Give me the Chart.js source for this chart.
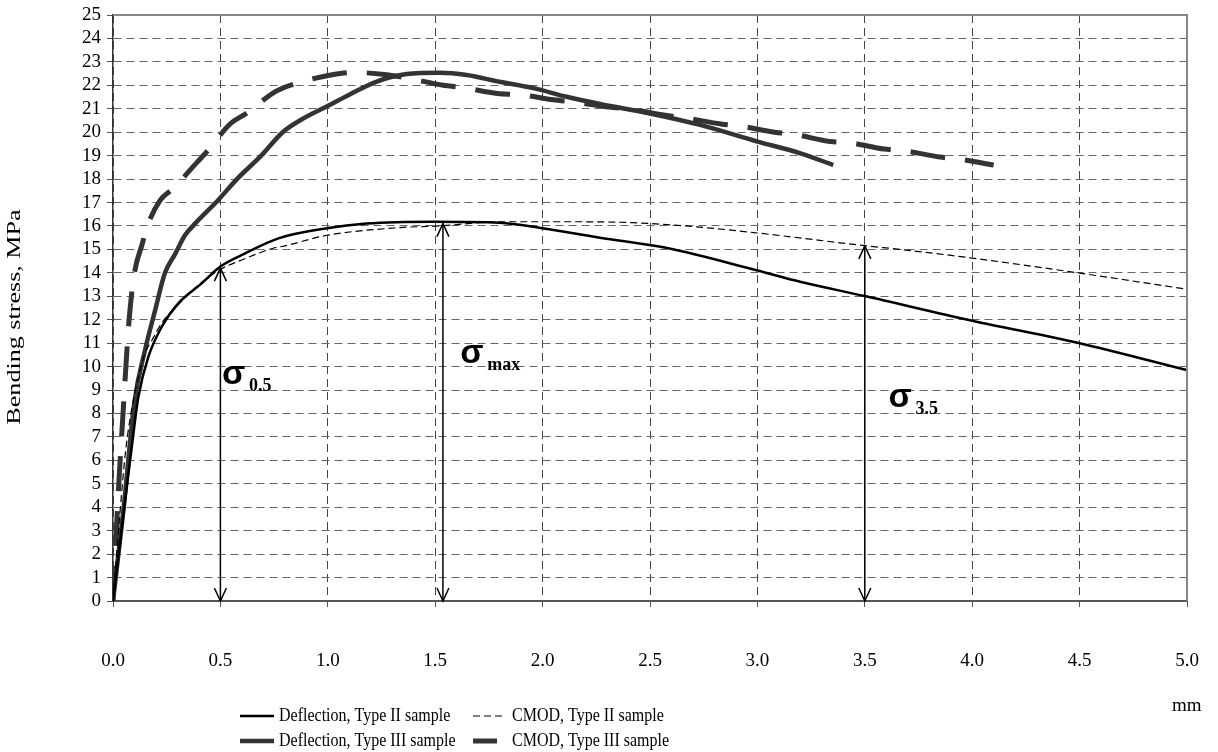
<!DOCTYPE html>
<html>
<head>
<meta charset="utf-8">
<script src="https://cdn.jsdelivr.net/npm/chart.js@4.4.1/dist/chart.umd.min.js"></script>
<style>
  html, body { margin: 0; padding: 0; background: #fff; }
  #wrap { width: 1218px; height: 752px; position: relative; }
</style>
</head>
<body>
<div id="wrap"><canvas id="c" width="1218" height="752"></canvas></div>
<script>
// ---- data ----
const xTicks = [0, 0.5, 1, 1.5, 2, 2.5, 3, 3.5, 4, 4.5, 5];

const defl2X = [0, 0.05, 0.1, 0.118, 0.164, 0.227, 0.304, 0.413, 0.498, 0.615, 0.77, 0.995, 1.18, 1.49, 1.8, 2.0, 2.267, 2.58, 3.0, 3.199, 3.5, 4.0, 4.5, 5.0];
const defl2Y = [0, 3.8, 7.5, 8.7, 10.4, 11.7, 12.7, 13.55, 14.26, 14.83, 15.47, 15.9, 16.1, 16.18, 16.14, 15.9, 15.5, 15.06, 14.1, 13.62, 13.01, 11.96, 11.0, 9.85];

const cmod2X = [0, 0.03, 0.06, 0.1, 0.15, 0.18, 0.23, 0.3, 0.4, 0.5, 0.6, 0.745, 0.8, 0.995, 1.336, 1.52, 1.8, 2.1, 2.42, 2.73, 3.0, 3.51, 3.664, 4.0, 4.5, 5.0];
const cmod2Y = [0, 3.5, 6.5, 8.8, 10.6, 11.1, 11.9, 12.6, 13.5, 14.15, 14.55, 15.05, 15.15, 15.6, 15.93, 16.0, 16.18, 16.18, 16.14, 15.95, 15.7, 15.15, 15.0, 14.63, 13.99, 13.3];

const defl3X = [0, 0.05, 0.1, 0.149, 0.196, 0.242, 0.289, 0.335, 0.382, 0.489, 0.577, 0.69, 0.79, 0.87, 0.995, 1.1, 1.228, 1.367, 1.522, 1.647, 1.8, 1.957, 2.112, 2.267, 2.5, 2.733, 3.0, 3.2, 3.353];
const defl3Y = [0, 4.0, 8.5, 10.7, 12.4, 14.0, 14.8, 15.6, 16.1, 17.1, 18.0, 19.0, 20.0, 20.5, 21.1, 21.6, 22.16, 22.48, 22.54, 22.44, 22.15, 21.88, 21.51, 21.2, 20.8, 20.31, 19.6, 19.1, 18.6];

const cmod3X = [0, 0.01, 0.02, 0.03, 0.04, 0.05, 0.06, 0.075, 0.1, 0.135, 0.16, 0.22, 0.28, 0.39, 0.44, 0.545, 0.62, 0.76, 0.86, 1.02, 1.12, 1.275, 1.375, 1.537, 1.63, 1.79, 1.895, 2.05, 2.15, 2.31, 2.41, 2.57, 2.67, 2.83, 2.92, 3.08, 3.175, 3.34, 3.43, 3.59, 3.69, 3.85, 3.94, 4.1];
const cmod3Y = [0, 2.0, 3.8, 5.5, 7.0, 8.5, 10.0, 12.0, 14.0, 15.2, 16.0, 17.1, 17.6, 18.7, 19.2, 20.35, 20.8, 21.75, 22.1, 22.45, 22.55, 22.45, 22.3, 22.0, 21.9, 21.65, 21.6, 21.38, 21.28, 21.07, 20.98, 20.72, 20.6, 20.35, 20.26, 20.0, 19.9, 19.6, 19.55, 19.28, 19.2, 18.94, 18.85, 18.6];

const seriesNames = ['Deflection, Type II sample', 'CMOD, Type II sample', 'Deflection, Type III sample', 'CMOD, Type III sample'];
const yTitle = 'Bending stress, MPa';
const xUnit = 'mm';

// annotation arrows: x position and top value
const arrowX = [0.5, 1.536, 3.5];
const arrowTop = [14.2, 16.1, 15.15];
// sigma labels
const sigmaSub = ['0.5', 'max', '3.5'];
const sigmaX = [0.507, 1.617, 3.61];
const sigmaY = [9.6, 10.5, 8.6];

const zip = (xs, ys) => xs.map((x, i) => ({x: x, y: ys[i]}));

const SERIF = '"Liberation Serif", "Times New Roman", serif';

const styles = [
  {color: '#000000', width: 2.5, dash: []},
  {color: '#000000', width: 1.2, dash: [7, 4]},
  {color: '#333333', width: 4.5, dash: []},
  {color: '#333333', width: 5, dash: [35, 20]}
];

const dataSets = [zip(defl2X, defl2Y), zip(cmod2X, cmod2Y), zip(defl3X, defl3Y), zip(cmod3X, cmod3Y)];

const extras = {
  id: 'extras',
  afterDraw(chart) {
    const ctx = chart.ctx;
    const xs = chart.scales.x, ys = chart.scales.y;
    const a = chart.chartArea;
    ctx.save();
    // top and right border
    ctx.strokeStyle = '#888';
    ctx.lineWidth = 2;
    ctx.beginPath();
    ctx.moveTo(a.left, a.top);
    ctx.lineTo(a.right, a.top);
    ctx.lineTo(a.right, a.bottom);
    ctx.stroke();

    // arrows
    ctx.strokeStyle = '#000';
    ctx.lineWidth = 1.5;
    arrowX.forEach((ax, i) => {
      const px = xs.getPixelForValue(ax);
      const y0 = ys.getPixelForValue(0);
      const y1 = ys.getPixelForValue(arrowTop[i]);
      ctx.beginPath();
      ctx.moveTo(px, y0);
      ctx.lineTo(px, y1);
      ctx.stroke();
      ctx.beginPath();
      ctx.moveTo(px - 6, y1 + 13);
      ctx.lineTo(px, y1);
      ctx.lineTo(px + 6, y1 + 13);
      ctx.moveTo(px - 6, y0 - 13);
      ctx.lineTo(px, y0);
      ctx.lineTo(px + 6, y0 - 13);
      ctx.stroke();
    });

    // sigma labels
    ctx.fillStyle = '#000';
    ctx.textBaseline = 'alphabetic';
    sigmaSub.forEach((s, i) => {
      const px = xs.getPixelForValue(sigmaX[i]);
      const py = ys.getPixelForValue(sigmaY[i]);
      ctx.font = 'bold 34px "Liberation Sans", Arial, sans-serif';
      ctx.textAlign = 'left';
      ctx.fillText('σ', px, py + 8);
      ctx.font = 'bold 18px ' + SERIF;
      ctx.fillText(s, px + 27, py + 15);
    });

    // y axis title (tall, narrow as in the reference)
    ctx.save();
    ctx.translate(15, 317);
    ctx.rotate(-Math.PI / 2);
    ctx.scale(1.45, 1);
    ctx.font = '18px ' + SERIF;
    ctx.textAlign = 'center';
    ctx.textBaseline = 'middle';
    ctx.fillText(yTitle, 0, 0);
    ctx.restore();

    // axis unit
    ctx.font = '19px ' + SERIF;
    ctx.textAlign = 'left';
    ctx.textBaseline = 'middle';
    ctx.fillText(xUnit, 1172, 706);

    // legend
    const rows = [716, 741];
    const items = [
      {i: 0, x1: 240, x2: 274, tx: 279, row: 0},
      {i: 1, x1: 473, x2: 504, tx: 512, row: 0},
      {i: 2, x1: 240, x2: 274, tx: 279, row: 1},
      {i: 3, x1: 473, x2: 497, tx: 512, row: 1}
    ];
    items.forEach(it => {
      const st = styles[it.i];
      const y = rows[it.row];
      ctx.strokeStyle = st.color;
      ctx.lineWidth = st.width;
      ctx.setLineDash(it.i === 3 ? [] : st.dash);
      ctx.beginPath();
      ctx.moveTo(it.x1, y);
      ctx.lineTo(it.x2, y);
      ctx.stroke();
      ctx.setLineDash([]);
      ctx.save();
      ctx.translate(it.tx, y);
      ctx.scale(1, 1.2);
      ctx.fillStyle = '#000';
      ctx.font = '16px ' + SERIF;
      ctx.textAlign = 'left';
      ctx.textBaseline = 'middle';
      ctx.fillText(seriesNames[it.i], 0, 0);
      ctx.restore();
    });
    ctx.restore();
  }
};

new Chart(document.getElementById('c'), {
  type: 'scatter',
  data: {
    datasets: dataSets.map((d, i) => ({
      label: seriesNames[i],
      data: d,
      showLine: true,
      borderColor: styles[i].color,
      backgroundColor: styles[i].color,
      borderWidth: styles[i].width,
      borderDash: styles[i].dash,
      pointRadius: 0,
      pointHoverRadius: 0,
      cubicInterpolationMode: 'monotone',
      fill: false
    }))
  },
  options: {
    responsive: false,
    animation: false,
    events: [],
    layout: { padding: { top: 15, right: 31, bottom: 0, left: 0 } },
    plugins: { legend: { display: false }, tooltip: { enabled: false } },
    scales: {
      x: {
        type: 'linear',
        min: 0, max: 5,
        afterBuildTicks: (s) => { s.ticks = xTicks.map(v => ({value: v})); },
        afterFit: (s) => { s.height = 151; s.paddingLeft = 0; s.paddingRight = 0; },
        grid: { color: '#444', lineWidth: 1, tickLength: 6, drawTicks: true,
                tickColor: '#555' },
        border: { display: true, color: '#555', width: 2, dash: [8, 5] },
        ticks: {
          color: '#000', padding: 43, maxRotation: 0, autoSkip: false,
          font: { family: SERIF, size: 19 },
          callback: (v) => Number(v).toFixed(1)
        }
      },
      y: {
        type: 'linear',
        min: 0, max: 25,
        afterFit: (s) => { s.width = 113; s.paddingTop = 0; s.paddingBottom = 0; },
        grid: { color: '#666', lineWidth: 1, tickLength: 6, tickColor: '#555' },
        border: { display: true, color: '#333', width: 1.5, dash: [8, 5] },
        ticks: {
          stepSize: 1, color: '#000', padding: 6, autoSkip: false,
          font: { family: SERIF, size: 19 }
        },
        title: { display: false }
      }
    }
  },
  plugins: [extras]
});
</script>
</body>
</html>
